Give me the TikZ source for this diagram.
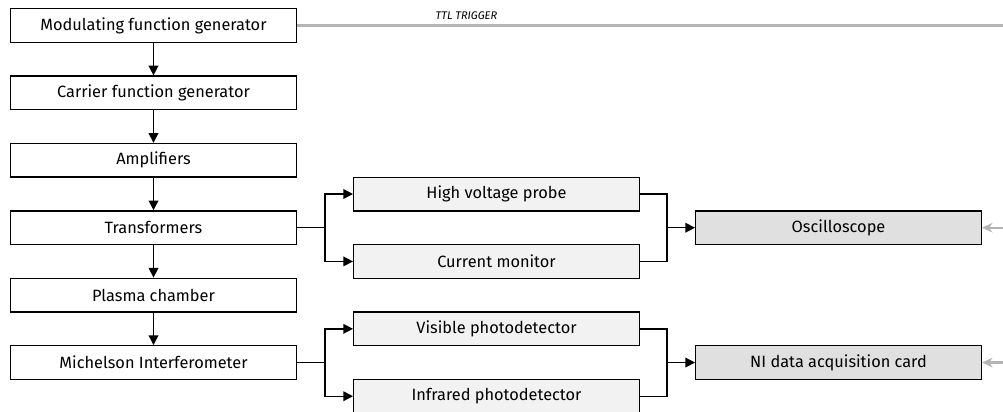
\documentclass[tikz,border=0pt]{standalone}
\usepackage{fontspec}
\setmainfont{Fira Sans}
\usepackage{xcolor}
\usepackage{tikz}
\usetikzlibrary{arrows.meta,positioning,calc}
\definecolor{probefill}{HTML}{F2F2F2}
\definecolor{readfill}{HTML}{E0E0E0}
\definecolor{trigline}{HTML}{B4B4B4}
\tikzset{
  unit/.style={
    draw=black, line width=0.8pt, fill=white,
    minimum width=5.712cm, minimum height=0.672cm, align=center,
    font=\fontsize{9.3}{11}\selectfont
  },
  probe/.style={unit, fill=probefill},
  readout/.style={unit, fill=readfill},
  arrow/.style={-{Triangle[length=5.5pt,width=5.5pt]}, line width=0.8pt},
  link/.style={line width=0.8pt},
  trig/.style={line width=1.5pt, trigline},
  trigarrow/.style={-{Stealth[length=6pt,width=5.5pt]}, line width=1.3pt, trigline},
  lbl/.style={font=\fontsize{6.3}{7}\selectfont\itshape, inner sep=1pt},
}
\begin{document}
\begin{tikzpicture}[node distance=0.648cm and 1.12cm]
    \useasboundingbox (0,0) rectangle (20.06,-8.24);
    % signal chain
    \node[unit, anchor=north west] (mod) at (0.2,-0.16) {Modulating function generator};
    \node[unit, below=of mod] (car) {Carrier function generator};
    \node[unit, below=of car] (amp) {Amplifiers};
    \node[unit, below=of amp] (trans) {Transformers};
    \node[unit, below=of trans] (plasma) {Plasma chamber};
    \node[unit, below=of plasma] (mich) {Michelson Interferometer};
    % probes and detectors
    \node[probe, right=of trans, yshift=0.674cm] (hv) {High voltage probe};
    \node[probe, below=of hv] (cur) {Current monitor};
    \node[probe, right=of mich, yshift=0.674cm] (vis) {Visible photodetector};
    \node[probe, below=of vis] (ir) {Infrared photodetector};
    % readout
    \node[readout, right=1.1cm of hv, yshift=-0.674cm] (osc) {Oscilloscope};
    \node[readout, right=1.1cm of vis, yshift=-0.674cm] (daq) {NI data acquisition card};
    % split and merge points
    \coordinate[right=0.56cm of trans.east] (tsplit);
    \coordinate[right=0.56cm of mich.east] (msplit);
    \coordinate[left=0.56cm of osc.west] (omerge);
    \coordinate[left=0.56cm of daq.west] (dmerge);
    \coordinate (ttlend) at (20.06,0 |- mod.east);
    \coordinate (osctrig) at (ttlend |- osc.east);
    \coordinate (daqtrig) at (ttlend |- daq.east);
    \draw[arrow] (mod) -- (car);
    \draw[arrow] (car) -- (amp);
    \draw[arrow] (amp) -- (trans);
    \draw[arrow] (trans) -- (plasma);
    \draw[arrow] (plasma) -- (mich);
    \draw[link] (trans) -- (tsplit);
    \draw[arrow] (tsplit) |- (hv);
    \draw[arrow] (tsplit) |- (cur);
    \draw[link] (mich) -- (msplit);
    \draw[arrow] (msplit) |- (vis);
    \draw[arrow] (msplit) |- (ir);
    \draw[link] (hv) -| (omerge);
    \draw[link] (cur) -| (omerge);
    \draw[arrow] (omerge) -- (osc);
    \draw[link] (vis) -| (dmerge);
    \draw[link] (ir) -| (dmerge);
    \draw[arrow] (dmerge) -- (daq);
    % trigger
    \draw[trig] (mod) -- (ttlend) node[pos=0.24, above=1.5pt, lbl, text=black] {TTL TRIGGER};
    \draw[trigarrow] (osctrig) -- (osc);
    \draw[trigarrow] (daqtrig) -- (daq);
  \end{tikzpicture}
\end{document}
